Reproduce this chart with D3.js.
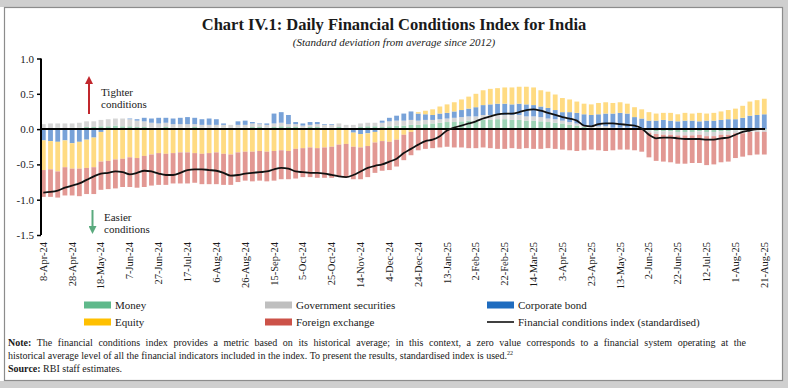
<!DOCTYPE html>
<html>
<head>
<meta charset="utf-8">
<script src="https://cdn.jsdelivr.net/npm/d3@7"></script>
<style>
body { margin: 0; background: #fff; }
svg { display: block; }
text { font-family: "Liberation Serif", "DejaVu Serif", serif; fill: #1a1a1a; }
</style>
</head>
<body>
<svg id="chart" width="788" height="388"></svg>
<script>
// ---- data (one value every 5 calendar days from 8-Apr-24) ----
var startDate = "8-Apr-24", stepDays = 5;

var money = [
  0.01,0.01,0.02,0.01,0.02,0.02,0.03,0.03,0.04,0.04,
  0.05,0.04,0.04,0.03,0.03,0.02,0.02,0.03,0.02,0.02,
  0.02,0.03,0.02,0.01,0.02,0.02,0.01,0.02,0.02,0.03,
  0.03,0.02,0.03,0.04,0.03,0.03,0.02,0.03,0.03,0.02,
  0.02,0.03,0.02,0.02,0.03,0.04,0.04,0.03,0.04,0.05,
  0.05,0.06,0.06,0.07,0.08,0.09,0.10,0.10,0.11,0.12,
  0.12,0.13,0.13,0.14,0.14,0.13,0.13,0.12,0.12,0.11,
  0.10,0.09,0.08,0.06,0.05,0.03,0.02,0.02,0.02,0.01,
  0.01,0.01,0.00,0.00,-0.02,-0.03,-0.03,-0.03,-0.04,-0.04,
  -0.04,-0.03,-0.04,-0.04,-0.03,-0.03,-0.02,-0.02,-0.01,-0.01,
  -0.01];
var gsec = [
  0.06,0.07,0.06,0.07,0.06,0.07,0.08,0.08,0.09,0.10,
  0.10,0.11,0.10,0.09,0.08,0.07,0.06,0.06,0.05,0.05,
  0.05,0.04,0.04,0.05,0.04,0.04,0.05,0.04,0.04,0.05,
  0.04,0.04,0.05,0.05,0.04,0.04,0.03,0.03,0.04,0.04,
  0.04,0.05,0.04,0.04,0.05,0.05,0.05,0.06,0.07,0.07,
  0.07,0.07,0.06,0.06,0.05,0.05,0.05,0.06,0.06,0.06,
  0.06,0.07,0.07,0.06,0.06,0.07,0.07,0.06,0.06,0.06,
  0.05,0.05,0.04,0.04,0.03,0.02,0.02,0.02,0.02,0.01,
  0.01,0.01,0.00,0.00,-0.03,-0.04,-0.05,-0.05,-0.05,-0.05,
  -0.05,-0.05,-0.06,-0.06,-0.05,-0.05,-0.04,-0.04,-0.03,-0.03,
  -0.03];
var corp = [
  -0.16,-0.17,-0.18,-0.16,-0.20,-0.18,-0.15,-0.12,-0.04,-0.01,
  0.00,0.00,0.01,0.02,0.05,0.06,0.08,0.07,0.08,0.09,
  0.10,0.09,0.08,0.09,0.08,0.02,0.00,0.05,0.06,0.02,
  0.01,0.02,0.14,0.15,0.13,0.03,0.03,0.04,0.03,0.01,
  0.01,0.00,0.00,-0.05,-0.07,-0.06,-0.04,0.03,0.05,0.07,
  0.10,0.12,0.10,0.08,0.07,0.08,0.08,0.09,0.10,0.11,
  0.13,0.14,0.15,0.16,0.16,0.15,0.16,0.17,0.16,0.15,
  0.15,0.13,0.12,0.14,0.15,0.16,0.16,0.17,0.18,0.20,
  0.21,0.20,0.17,0.15,0.12,0.12,0.13,0.12,0.11,0.12,
  0.12,0.11,0.12,0.12,0.13,0.14,0.14,0.16,0.19,0.20,
  0.21];
var equity = [
  -0.42,-0.40,-0.42,-0.38,-0.36,-0.38,-0.40,-0.42,-0.42,-0.44,
  -0.43,-0.42,-0.40,-0.41,-0.38,-0.36,-0.34,-0.35,-0.34,-0.33,
  -0.33,-0.34,-0.35,-0.34,-0.33,-0.35,-0.36,-0.33,-0.32,-0.32,
  -0.31,-0.32,-0.31,-0.30,-0.31,-0.28,-0.27,-0.26,-0.27,-0.26,
  -0.25,-0.22,-0.21,-0.20,-0.19,-0.18,-0.15,-0.17,-0.18,-0.15,
  -0.08,-0.04,0.02,0.05,0.08,0.10,0.12,0.13,0.15,0.17,
  0.19,0.21,0.22,0.22,0.23,0.24,0.24,0.25,0.25,0.23,
  0.23,0.22,0.20,0.18,0.16,0.15,0.15,0.16,0.16,0.15,
  0.15,0.14,0.14,0.13,0.12,0.10,0.10,0.11,0.10,0.11,
  0.10,0.12,0.10,0.11,0.12,0.13,0.15,0.17,0.20,0.21,
  0.22];
var forex = [
  -0.38,-0.39,-0.37,-0.40,-0.38,-0.39,-0.37,-0.38,-0.40,-0.40,
  -0.41,-0.40,-0.42,-0.42,-0.44,-0.44,-0.45,-0.44,-0.43,-0.44,
  -0.44,-0.42,-0.43,-0.44,-0.45,-0.44,-0.43,-0.42,-0.41,-0.42,
  -0.42,-0.42,-0.42,-0.41,-0.40,-0.42,-0.41,-0.42,-0.42,-0.43,
  -0.44,-0.45,-0.47,-0.46,-0.45,-0.44,-0.43,-0.42,-0.40,-0.38,
  -0.36,-0.33,-0.30,-0.28,-0.27,-0.26,-0.25,-0.26,-0.26,-0.27,
  -0.27,-0.26,-0.27,-0.28,-0.28,-0.27,-0.28,-0.27,-0.28,-0.28,
  -0.27,-0.28,-0.29,-0.30,-0.31,-0.30,-0.29,-0.30,-0.31,-0.30,
  -0.29,-0.29,-0.30,-0.32,-0.35,-0.38,-0.38,-0.39,-0.40,-0.40,
  -0.39,-0.40,-0.41,-0.40,-0.39,-0.38,-0.35,-0.33,-0.33,-0.32,
  -0.32];
var fci = [
  -0.90,-0.89,-0.87,-0.83,-0.80,-0.77,-0.72,-0.67,-0.63,-0.62,
  -0.60,-0.61,-0.64,-0.62,-0.59,-0.60,-0.63,-0.65,-0.65,-0.62,
  -0.58,-0.57,-0.57,-0.58,-0.59,-0.62,-0.66,-0.65,-0.63,-0.62,
  -0.61,-0.60,-0.57,-0.55,-0.56,-0.60,-0.61,-0.62,-0.62,-0.63,
  -0.65,-0.67,-0.68,-0.65,-0.60,-0.55,-0.52,-0.50,-0.46,-0.42,
  -0.34,-0.28,-0.22,-0.17,-0.15,-0.10,-0.02,0.02,0.05,0.08,
  0.11,0.15,0.18,0.21,0.22,0.22,0.24,0.27,0.28,0.26,
  0.23,0.20,0.17,0.15,0.12,0.05,0.04,0.07,0.08,0.08,
  0.07,0.06,0.05,0.01,-0.08,-0.13,-0.12,-0.12,-0.13,-0.14,
  -0.14,-0.14,-0.15,-0.15,-0.13,-0.12,-0.08,-0.04,-0.02,0.00,
  0.00];

var tickLabels = ["8-Apr-24","28-Apr-24","18-May-24","7-Jun-24","27-Jun-24","17-Jul-24",
  "6-Aug-24","26-Aug-24","15-Sep-24","5-Oct-24","25-Oct-24","14-Nov-24","4-Dec-24",
  "24-Dec-24","13-Jan-25","2-Feb-25","22-Feb-25","14-Mar-25","3-Apr-25","23-Apr-25",
  "13-May-25","2-Jun-25","22-Jun-25","12-Jul-25","1-Aug-25","21-Aug-25"];
var yTicks = [1.0, 0.5, 0.0, -0.5, -1.0, -1.5];

var keys = ["money", "gsec", "corp", "equity", "forex"];
var legendLabels = ["Money", "Government securities", "Corporate bond", "Equity", "Foreign exchange",
  "Financial conditions index (standardised)"];
var swatch = { money: "#5fb98b", gsec: "#bfbfbf", corp: "#1f6cbf", equity: "#ffc000", forex: "#cc5248" };
var barFill = { money: "#9dd3b5", gsec: "#d6d6d6", corp: "#78a2d8", equity: "#ffdb82", forex: "#e29893" };

// ---- setup ----
var svg = d3.select("#chart");
var parse = d3.timeParse("%d-%b-%y");
var t0 = parse(startDate);
var dates = money.map(function (d, i) { return d3.timeDay.offset(t0, i * stepDays); });
var tickDates = tickLabels.map(parse);

var x = d3.scaleTime().domain([tickDates[0], tickDates[tickDates.length - 1]]).range([43.3, 764.3]);
var y = d3.scaleLinear().domain([-1.5, 1.0]).range([235, 58.5]);

// frame
svg.append("rect").attr("x", 0).attr("y", 0).attr("width", 788).attr("height", 7).attr("fill", "#cfcfcf");
svg.append("rect").attr("x", 783).attr("y", 0).attr("width", 5).attr("height", 388).attr("fill", "#cfcfcf");
svg.append("rect").attr("x", 0).attr("y", 381).attr("width", 788).attr("height", 7).attr("fill", "#cfcfcf");
svg.append("rect").attr("x", 4.5).attr("y", 7.5).attr("width", 778).attr("height", 373)
  .attr("fill", "#fff").attr("stroke", "#8c8c8c").attr("stroke-width", 1.2);

// titles
svg.append("text").attr("x", 394).attr("y", 30).attr("text-anchor", "middle")
  .style("font-size", "16.5px").style("font-weight", "bold")
  .text("Chart IV.1: Daily Financial Conditions Index for India");
svg.append("text").attr("x", 394).attr("y", 46).attr("text-anchor", "middle")
  .style("font-size", "11px").style("font-style", "italic")
  .text("(Standard deviation from average since 2012)");

// ---- bars ----
var rows = dates.map(function (d, i) {
  return { date: d, money: money[i], gsec: gsec[i], corp: corp[i], equity: equity[i], forex: forex[i] };
});
var stacked = d3.stack().keys(keys).offset(d3.stackOffsetDiverging)(rows);
var bw = 4.8;

svg.append("g").selectAll("g").data(stacked).enter().append("g")
  .attr("fill", function (s) { return barFill[s.key]; })
  .selectAll("rect").data(function (s) { return s; }).enter().append("rect")
  .attr("x", function (d) { return x(d.data.date) - bw / 2; })
  .attr("width", bw)
  .attr("y", function (d) { return y(Math.max(d[0], d[1])); })
  .attr("height", function (d) { return Math.abs(y(d[0]) - y(d[1])); });

// zero line
svg.append("line").attr("x1", 41).attr("x2", 765).attr("y1", y(0)).attr("y2", y(0))
  .attr("stroke", "#000").attr("stroke-width", 2);

// FCI line
var line = d3.line()
  .x(function (d, i) { return x(dates[i]); })
  .y(function (d) { return y(d); })
  .curve(d3.curveMonotoneX);
svg.append("path").datum(fci).attr("d", line)
  .attr("fill", "none").attr("stroke", "#111").attr("stroke-width", 1.8);

// ---- axes ----
var yAxis = svg.append("g").attr("transform", "translate(41,0)")
  .call(d3.axisLeft(y).tickValues(yTicks).tickSize(4).tickFormat(function (d) { return d.toFixed(1); }));
yAxis.select(".domain").attr("stroke", "#000").attr("stroke-width", 2).attr("d", "M0," + y(1.0) + "V" + y(-1.5));
yAxis.selectAll(".tick line").attr("stroke", "#000").attr("stroke-width", 1.5);
yAxis.selectAll(".tick text").attr("x", -7).style("font-size", "11px")
  .style("font-family", "'Liberation Serif', serif").attr("fill", "#1a1a1a");

var xg = svg.append("g");
xg.selectAll("text").data(tickDates).enter().append("text")
  .attr("transform", function (d) { return "translate(" + (x(d) + 3.5) + ",242) rotate(-90)"; })
  .attr("text-anchor", "end")
  .style("font-size", "10.5px")
  .text(function (d, i) { return tickLabels[i]; });

// ---- annotations ----
var defs = svg.append("defs");
function arrowHead(id, col) {
  defs.append("marker").attr("id", id).attr("viewBox", "0 0 10 10").attr("refX", 5).attr("refY", 5)
    .attr("markerWidth", 4).attr("markerHeight", 4).attr("orient", "auto")
    .append("path").attr("d", "M0,0L10,5L0,10Z").attr("fill", col);
}
arrowHead("upArrow", "#c1272d");
arrowHead("downArrow", "#5aaa7e");
svg.append("line").attr("x1", 89).attr("x2", 89).attr("y1", 114).attr("y2", 80)
  .attr("stroke", "#c1272d").attr("stroke-width", 2).attr("marker-end", "url(#upArrow)");
svg.append("line").attr("x1", 92.5).attr("x2", 92.5).attr("y1", 210).attr("y2", 230)
  .attr("stroke", "#5aaa7e").attr("stroke-width", 2).attr("marker-end", "url(#downArrow)");
svg.append("text").attr("x", 101).attr("y", 96).style("font-size", "11px").text("Tighter");
svg.append("text").attr("x", 101).attr("y", 108).style("font-size", "11px").text("conditions");
svg.append("text").attr("x", 104).attr("y", 221).style("font-size", "11px").text("Easier");
svg.append("text").attr("x", 104).attr("y", 233).style("font-size", "11px").text("conditions");

// ---- legend ----
var legX = [84, 265, 487], legY = [305, 322];
var legItems = keys.concat(["fci"]);
var leg = svg.append("g").selectAll("g").data(legItems).enter().append("g")
  .attr("transform", function (d, i) { return "translate(" + legX[i % 3] + "," + legY[Math.floor(i / 3)] + ")"; });
leg.each(function (k) {
  var g = d3.select(this);
  if (k === "fci") {
    g.append("line").attr("x1", 0).attr("x2", 27).attr("y1", 0).attr("y2", 0)
      .attr("stroke", "#111").attr("stroke-width", 1.6);
  } else {
    g.append("rect").attr("x", 0).attr("y", -3.5).attr("width", 27).attr("height", 7).attr("fill", swatch[k]);
  }
});
leg.append("text").attr("x", 31).attr("y", 3.8).style("font-size", "11px")
  .text(function (d, i) { return legendLabels[i]; });

// ---- notes ----
var note1 = svg.append("text").attr("x", 8).attr("y", 346).style("font-size", "10px");
note1.append("tspan").style("font-weight", "bold").text("Note:");
note1.append("tspan").text(" The financial conditions index provides a metric based on its historical average; in this context, a zero value corresponds to a financial system operating at the");
// first line is justified in the original: spread the words to the right margin
var natural = note1.node().getComputedTextLength();
var gaps = note1.text().split(" ").length - 1;
note1.style("word-spacing", ((746 - 8 - natural) / gaps) + "px");

var note2 = svg.append("text").attr("x", 8).attr("y", 359).style("font-size", "10px");
note2.append("tspan").text("historical average level of all the financial indicators included in the index. To present the results, standardised index is used.");
note2.append("tspan").attr("dy", -4).style("font-size", "6px").text("22");
var src = svg.append("text").attr("x", 8).attr("y", 372).style("font-size", "10px");
src.append("tspan").style("font-weight", "bold").text("Source:");
src.append("tspan").text(" RBI staff estimates.");
</script>
</body>
</html>
